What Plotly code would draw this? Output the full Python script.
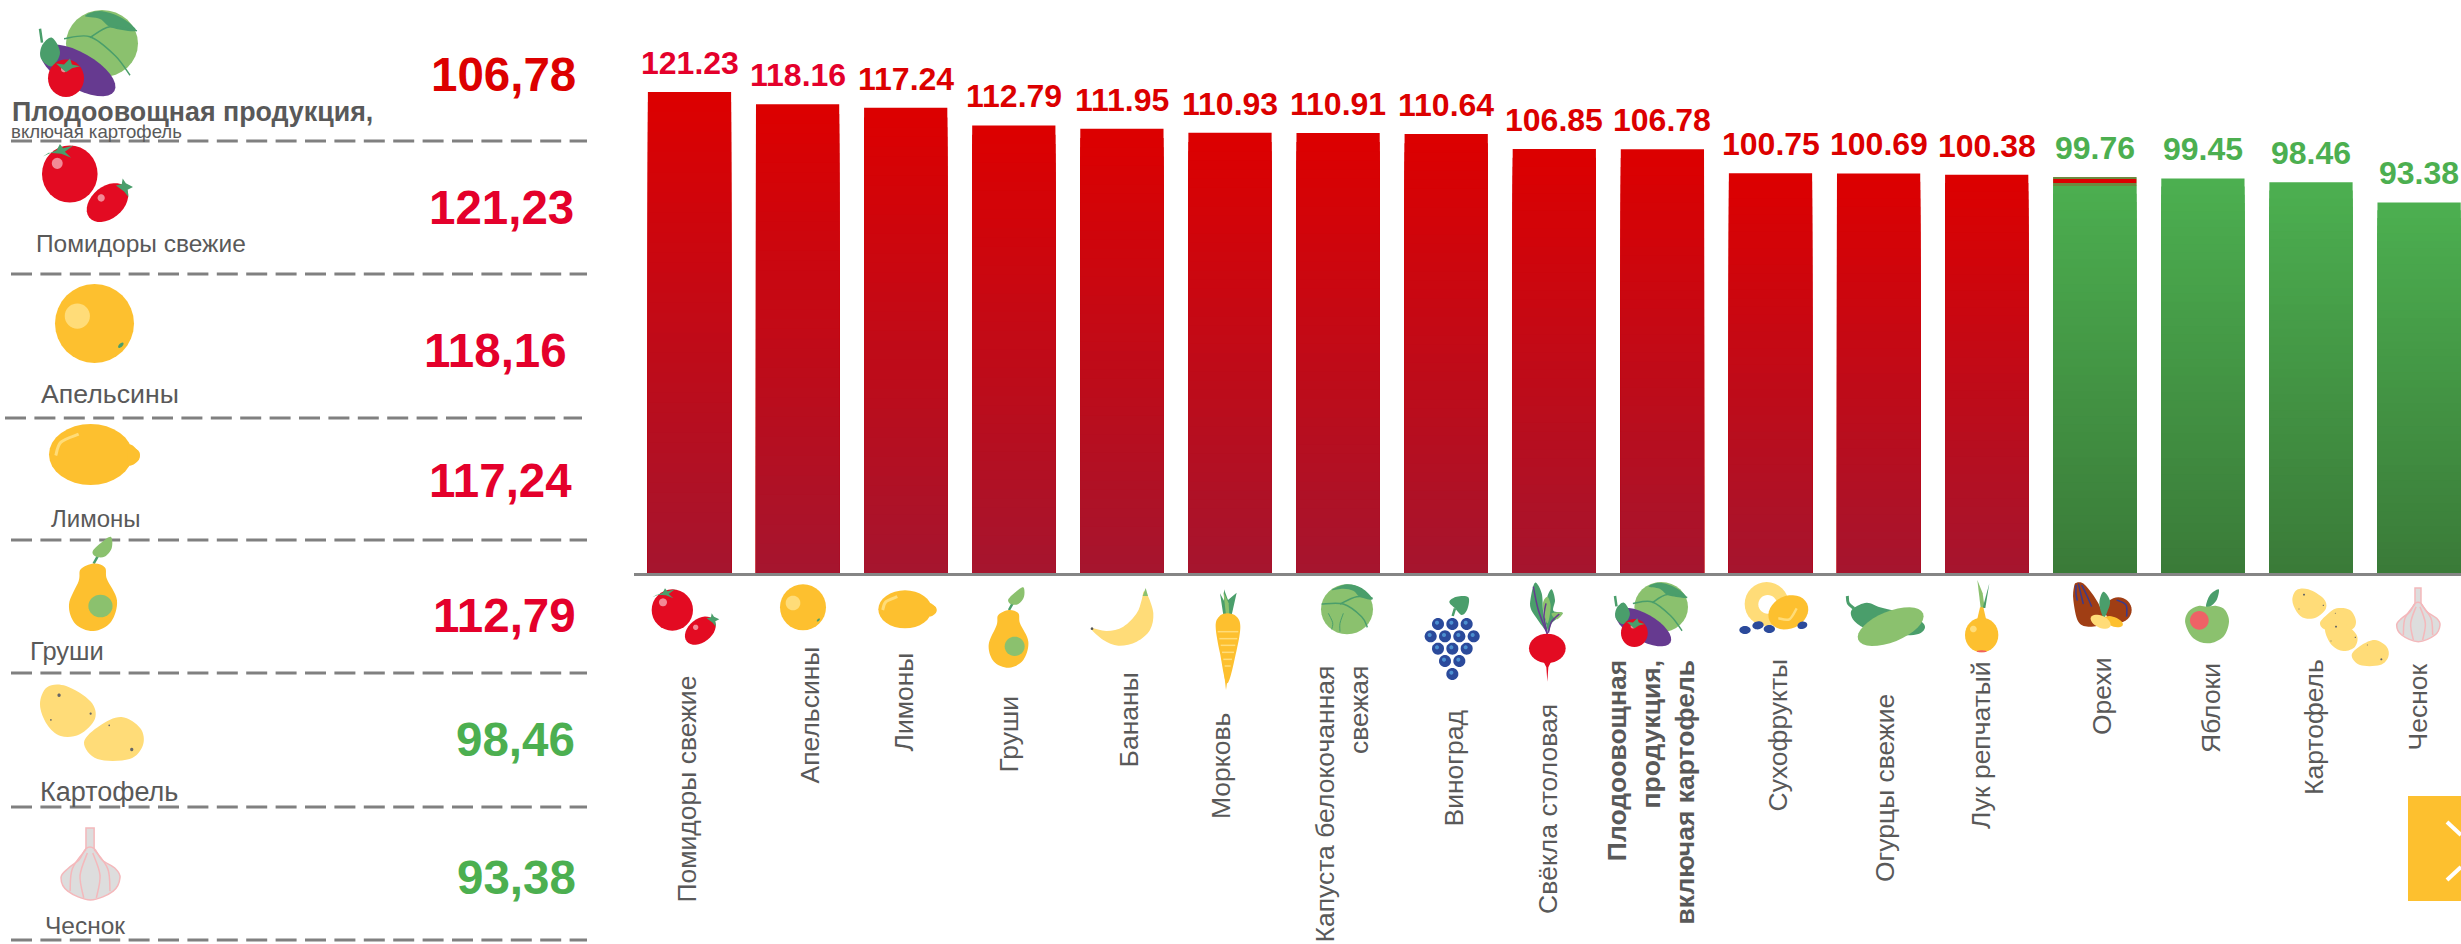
import math
import plotly.graph_objects as go

W, H = 2461, 944

# ---------- data ----------
categories = ["Помидоры свежие", "Апельсины", "Лимоны", "Груши", "Бананы", "Морковь",
              "Капуста белокочанная свежая", "Виноград", "Свёкла столовая",
              "Плодоовощная продукция, включая картофель", "Сухофрукты", "Огурцы свежие",
              "Лук репчатый", "Орехи", "Яблоки", "Картофель", "Чеснок"]
values = [121.23, 118.16, 117.24, 112.79, 111.95, 110.93, 110.91, 110.64, 106.85,
          106.78, 100.75, 100.69, 100.38, 99.76, 99.45, 98.46, 93.38]
tick_labels = ["Помидоры свежие", "Апельсины", "Лимоны", "Груши", "Бананы", "Морковь",
               "Капуста белокочанная<br>свежая", "Виноград", "Свёкла столовая",
               "<b>Плодоовощная<br>продукция,<br>включая картофель</b>", "Сухофрукты",
               "Огурцы свежие", "Лук репчатый", "Орехи", "Яблоки", "Картофель", "Чеснок"]
nuts_strip_category = "Орехи"
nuts_strip_edges = [97.5, 98.3, 99.3, 99.76]

side_names = ["Помидоры свежие", "Апельсины", "Лимоны", "Груши", "Картофель", "Чеснок"]
side_values = [121.23, 118.16, 117.24, 112.79, 98.46, 93.38]
side_total_name = "Плодоовощная продукция,"
side_total_note = "включая картофель"
side_total_value = 106.78

# ---------- layout constants (pixels) ----------
BASE_PX = 573
PX_PER_UNIT = 3.968
PLOT_LEFT = 634
BAR_C0, BAR_PITCH = 689.5, 108.1
GREY = "#595959"
RED, PINK, GREEN = "#dc0000", "#e4002b", "#4caf50"
Y, PALE, LEAF, LIGHT, TOM, BLUE = "#fdc02f", "#ffdc78", "#4a9e6b", "#8bc16e", "#e30b22", "#2b4a9b"
BROWN = "#a03e14"


def px(x):
    return x / W


def py(y):
    return 1 - y / H


# ---------- icon primitives ----------
def ell(cx, cy, rx, ry, color, rot=0):
    a = math.radians(rot)
    pts = []
    for i in range(32):
        t = 2 * math.pi * i / 32
        ex, ey = rx * math.cos(t), ry * math.sin(t)
        pts.append((cx + ex * math.cos(a) - ey * math.sin(a), cy + ex * math.sin(a) + ey * math.cos(a)))
    return dict(kind="poly", pts=pts, fill=color)


def poly(pts, color):
    return dict(kind="poly", pts=pts, fill=color)


def blob(pts, color):
    return dict(kind="blob", pts=pts, fill=color)


def stroke(pts, color, w=2.0):
    return dict(kind="stroke", pts=pts, line=color, w=w)


def outlined(prim, color, w=1.5):
    p = dict(prim)
    p["line"] = color
    p["w"] = w
    return p


def catmull(pts, closed):
    n = len(pts)
    fmt = []
    segs = range(n) if closed else range(n - 1)
    for i in segs:
        if closed:
            p0, p1, p2, p3 = pts[(i - 1) % n], pts[i], pts[(i + 1) % n], pts[(i + 2) % n]
        else:
            p0, p1, p2, p3 = pts[max(i - 1, 0)], pts[i], pts[i + 1], pts[min(i + 2, n - 1)]
        c1 = (p1[0] + (p2[0] - p0[0]) / 6, p1[1] + (p2[1] - p0[1]) / 6)
        c2 = (p2[0] - (p3[0] - p1[0]) / 6, p2[1] - (p3[1] - p1[1]) / 6)
        fmt.append((c1, c2, p2))
    return fmt


def render(icon, mapper):
    out = []
    for p in icon:
        m = [mapper(*q) for q in p["pts"]]
        s = lambda q: f"{px(q[0]):.6f},{py(q[1]):.6f}"
        d = "M" + s(m[0])
        if p["kind"] == "poly":
            d += "".join(" L" + s(q) for q in m[1:]) + " Z"
        elif p["kind"] == "blob":
            d += "".join(f" C{s(a)} {s(b)} {s(c)}" for a, b, c in catmull(m, True)) + " Z"
        else:
            d += "".join(f" C{s(a)} {s(b)} {s(c)}" for a, b, c in catmull(m, False))
        sh = dict(type="path", path=d, xref="paper", yref="paper", layer="above")
        if p["kind"] == "stroke":
            sh["line"] = dict(color=p["line"], width=p["w"])
            sh["fillcolor"] = "rgba(0,0,0,0)"
        else:
            sh["fillcolor"] = p["fill"]
            sh["line"] = dict(color=p.get("line", p["fill"]), width=p.get("w", 0))
        out.append(sh)
    return out


def place_frame(icon, ox, oy, k=1 / 3):
    return render(icon, lambda x, y: (ox + x * k, oy + y * k))


def place_box(icon, box):
    xs = [q[0] for p in icon for q in p["pts"]]
    ys = [q[1] for p in icon for q in p["pts"]]
    x0, x1, y0, y1 = min(xs), max(xs), min(ys), max(ys)
    return render(icon, lambda x, y: (box[0] + (x - x0) / (x1 - x0) * (box[2] - box[0]),
                                      box[1] + (y - y0) / (y1 - y0) * (box[3] - box[1])))


tomato = [
    ell(97, 90, 62, 62, TOM), ell(69, 67, 12, 12, "#f28a96"),
    poly([(37, 52), (68, 38), (75, 25), (82, 34), (105, 28), (86, 42), (100, 55), (78, 46), (50, 44)], LEAF),
    ell(181, 152, 52, 35, TOM, -38), ell(167, 142, 8, 8, "#f28a96"),
    poly([(200, 115), (213, 112), (215, 100), (222, 110), (238, 118), (226, 124), (228, 140), (218, 128)], LEAF),
]
orange = [ell(489, 82, 69, 69, Y), ell(459, 69, 22, 22, PALE), ell(535, 120, 6, 3, LEAF, -45)]
lemon = [ell(795, 88, 80, 57, Y), ell(878, 89, 12, 12, Y),
         blob([(868, 70), (885, 80), (888, 98), (868, 108)], Y),
         stroke([(728, 90), (738, 65), (772, 50)], PALE, 3)]
pear = [
    stroke([(1107, 90), (1128, 52)], LEAF, 2.5),
    blob([(1105, 58), (1128, 35), (1150, 22), (1152, 50), (1135, 72), (1112, 72)], LIGHT),
    blob([(1107, 90), (1135, 100), (1140, 130), (1165, 185), (1150, 240), (1107, 263),
          (1062, 245), (1046, 195), (1070, 135), (1075, 105)], Y),
    ell(1124, 199, 30, 29, LIGHT),
]
banana = [
    blob([(1353, 145), (1400, 153), (1450, 140), (1490, 100), (1505, 60), (1512, 34), (1525, 50),
          (1540, 100), (1530, 150), (1490, 185), (1435, 197), (1390, 180)], PALE),
    poly([(1508, 48), (1517, 24), (1524, 48)], LIGHT), ell(1356, 146, 4, 4, "#555555"),
]
carrot = [
    poly([(250, 105), (240, 40), (252, 62), (252, 28), (264, 60), (290, 38), (275, 105)], LEAF),
    poly([(258, 105), (250, 35), (266, 70), (268, 105)], LIGHT),
    blob([(262, 100), (290, 110), (301, 140), (290, 210), (262, 310), (240, 220), (227, 140), (237, 110)], Y),
    poly([(250, 260), (268, 260), (258, 330)], Y),
    stroke([(233, 155), (295, 155)], PALE, 1.5), stroke([(238, 176), (292, 176)], PALE, 1.5),
    stroke([(242, 196), (286, 196)], PALE, 1.5), stroke([(246, 217), (282, 217)], PALE, 1.5),
    stroke([(250, 238), (276, 238)], PALE, 1.5), stroke([(254, 258), (272, 258)], PALE, 1.5),
]
cabbage = [
    ell(621, 88, 78, 75, LIGHT),
    blob([(575, 30), (620, 13), (665, 24), (698, 58), (660, 50), (640, 32), (610, 26)], LEAF),
    stroke([(545, 72), (610, 72), (665, 110), (682, 142)], LEAF, 1.5),
    stroke([(600, 72), (650, 50), (698, 55)], LEAF, 1.5),
    stroke([(565, 100), (578, 128), (575, 148)], LEAF, 1),
    stroke([(610, 100), (600, 130), (600, 155)], LEAF, 1),
]
grape_centers = [(894, 132), (937, 132), (980, 132), (872, 169), (915, 169), (958, 169), (1001, 169),
                 (894, 206), (937, 206), (980, 206), (915, 243), (958, 243), (937, 282)]
grapes = [stroke([(945, 85), (938, 108)], LEAF, 2.5),
          blob([(928, 65), (950, 50), (985, 52), (982, 88), (965, 105), (945, 85)], LEAF)]
for gx, gy in grape_centers:
    grapes += [ell(gx, gy, 18, 18, BLUE), ell(gx - 3, gy - 4, 6, 6, "#4b8fd0")]
beet = [
    blob([(1172, 55), (1185, 8), (1205, 40), (1210, 100), (1222, 155), (1190, 115), (1172, 85)], LEAF),
    blob([(1222, 50), (1235, 28), (1245, 60), (1240, 92), (1268, 100), (1235, 130), (1225, 155), (1212, 92)], LEAF),
    blob([(1208, 75), (1222, 50), (1232, 80), (1222, 130)], LIGHT),
    blob([(1235, 100), (1268, 98), (1250, 118)], LIGHT),
    stroke([(1222, 162), (1195, 90), (1180, 20)], "#663a90", 1.5),
    stroke([(1222, 162), (1212, 110), (1218, 70)], "#663a90", 1.5),
    stroke([(1225, 158), (1235, 125), (1258, 102)], "#663a90", 1.5),
    ell(1222, 205, 55, 44, TOM),
    poly([(1208, 240), (1236, 240), (1225, 262), (1222, 305), (1219, 262)], TOM),
]
mixed = [
    ell(102, 43, 36, 34, LIGHT),
    blob([(85, 15), (100, 10), (122, 17), (136, 30), (112, 27), (100, 18)], LEAF),
    stroke([(64, 38), (90, 36), (115, 55), (130, 75)], LEAF, 1.5),
    stroke([(90, 37), (110, 26), (137, 30)], LEAF, 1.5),
    ell(78, 70, 42, 18, "#663a90", 30),
    stroke([(42, 42), (40, 28)], LEAF, 2.5),
    blob([(41, 58), (42, 45), (52, 37), (60, 52), (52, 66)], LEAF),
    ell(66, 78, 18, 19, TOM), ell(64, 69, 3, 3, "#f28a96"),
    poly([(56, 63), (64, 64), (70, 58), (72, 64), (80, 66), (72, 68), (66, 72)], LEAF),
]
dried = [
    ell(380, 72, 66, 66, PALE), ell(383, 73, 28, 28, "#ffffff"),
    ell(445, 97, 62, 49, Y, -25),
    stroke([(415, 115), (448, 118), (470, 85)], PALE, 2.5),
    ell(315, 150, 17, 12, BLUE), ell(354, 136, 17, 12, BLUE, -10), ell(388, 147, 17, 12, BLUE),
    ell(487, 136, 15, 11, BLUE, -15),
]
cucumber = [
    stroke([(622, 48), (625, 70), (642, 85)], LEAF, 3),
    blob([(640, 85), (680, 68), (720, 82), (770, 95), (830, 115), (855, 140), (835, 162),
          (780, 165), (690, 150), (650, 130), (633, 105)], LEAF),
    ell(752, 140, 105, 46, LIGHT, -22),
]
onion = [
    poly([(1022, 84), (1012, 0), (1028, 40), (1034, 84)], LIGHT),
    poly([(1028, 84), (1048, 10), (1036, 84)], LEAF),
    poly([(1010, 125), (1020, 82), (1030, 82), (1040, 125)], Y),
    ell(1025, 165, 50, 52, Y), ell(1025, 214, 15, 3, "#f0605f"), ell(1000, 147, 10, 10, PALE),
]
nuts = [
    ell(175, 90, 40, 38, BROWN),
    stroke([(170, 60), (198, 75), (200, 110)], "#3a3a8c", 1.5),
    blob([(50, 8), (75, 15), (115, 70), (130, 125), (90, 140), (55, 125), (40, 60), (42, 20)], BROWN),
    stroke([(55, 10), (62, 40), (70, 72)], "#3a3a8c", 1.5), stroke([(65, 15), (80, 45), (95, 80)], "#3a3a8c", 1.5),
    stroke([(48, 15), (48, 40), (52, 62)], "#3a3a8c", 1.5),
    blob([(130, 35), (150, 62), (142, 95), (130, 112), (118, 70)], LEAF),
    ell(160, 125, 30, 14, Y, 20), ell(122, 125, 32, 18, PALE, 25),
]
apple = [
    blob([(438, 78), (450, 45), (476, 28), (470, 60), (450, 80)], LEAF),
    blob([(440, 80), (470, 78), (495, 90), (507, 125), (490, 170), (445, 190), (400, 175),
          (376, 130), (385, 95), (415, 78)], LIGHT),
    ell(418, 121, 28, 28, "#ee6266"),
]


def spot(x, y, r=2.5):
    return ell(x, y, r, r, "#666666")


potato_a = [blob([(697, 60), (710, 30), (745, 28), (790, 55), (798, 85), (770, 112), (735, 115), (710, 95)], PALE),
            spot(732, 44, 3), spot(790, 76, 2), spot(717, 87, 1.5)]
potato_b = [blob([(780, 130), (800, 105), (830, 85), (870, 90), (888, 125), (870, 150), (800, 150)], PALE),
            spot(826, 100, 1.5)]
potato_c = [blob([(795, 150), (815, 130), (850, 130), (890, 165), (885, 200), (850, 213), (815, 195)], PALE),
            spot(828, 140, 3), spot(886, 172, 2), spot(813, 183, 1.5)]
potato_d = [blob([(875, 225), (905, 195), (945, 180), (980, 200), (985, 230), (960, 255), (900, 255)], PALE),
            spot(922, 195, 1.5), spot(964, 238, 3)]
potatoes = potato_a + potato_b + potato_c + potato_d

GL = "#f4b8bb"
garlic = [
    outlined(poly([(1065, 24), (1083, 24), (1083, 75), (1065, 75)], "#dddddd"), GL),
    outlined(blob([(1065, 70), (1083, 70), (1100, 95), (1130, 115), (1140, 135), (1125, 165),
                   (1075, 185), (1025, 165), (1010, 135), (1025, 115), (1050, 95)], "#dddddd"), GL),
    stroke([(1065, 72), (1035, 115), (1030, 165)], GL, 1.5),
    stroke([(1083, 72), (1113, 115), (1118, 165)], GL, 1.5),
    stroke([(1068, 80), (1052, 130), (1060, 180)], GL, 1.5),
    stroke([(1080, 80), (1096, 130), (1088, 180)], GL, 1.5),
]

# ---------- bars: overlaid, shrinking copies give the vertical gradient ----------
GRAD_STEPS = 48
BAR_W = 0.77


def mix(c_top, c_bot, t):
    a = [int(c_top[i:i + 2], 16) for i in (1, 3, 5)]
    b = [int(c_bot[i:i + 2], 16) for i in (1, 3, 5)]
    return "rgb(%d,%d,%d)" % tuple(round(b[i] + (a[i] - b[i]) * t) for i in range(3))


fig = go.Figure()
for k in range(GRAD_STEPS, 0, -1):
    f = k / GRAD_STEPS
    fig.add_trace(go.Bar(
        x=categories, y=[v * f for v in values], width=BAR_W, hoverinfo="skip", showlegend=False,
        marker=dict(line=dict(width=0),
                    color=[mix("#dc0000", "#a5152f", f) if v >= 100 else mix("#4caf50", "#3a7a38", f)
                           for v in values])))

strip_colors = ["#6d8a3f", "#dc0000", "#6d8a3f"]
for lo, hi, c in zip(nuts_strip_edges[:-1], nuts_strip_edges[1:], strip_colors):
    fig.add_trace(go.Bar(x=[nuts_strip_category], y=[hi - lo], base=[lo], width=BAR_W, hoverinfo="skip",
                         showlegend=False, marker=dict(color=c, line=dict(width=0))))

ann = []
# value labels above the bars
for i, (c, v) in enumerate(zip(categories, values)):
    col = PINK if v > 118 else (RED if v >= 100 else GREEN)
    ann.append(dict(x=c, y=v, xref="x", yref="y", yanchor="bottom", xanchor="center", yshift=9,
                    text=f"{v:.2f}", showarrow=False,
                    font=dict(family="Liberation Sans", size=32, color=col, weight="bold")))

# rotated category labels
label_x_px = [686, 809, 903, 1008, 1128, 1221, 1341, 1453, 1548, 1651, 1777, 1885, 1981, 2102, 2211, 2314, 2417]
label_top_px = [676, 647, 653, 695, 673, 713, 666, 710, 704, 660, 659, 694, 661, 657, 663, 659, 664]
for t, lx, ly in zip(tick_labels, label_x_px, label_top_px):
    ann.append(dict(x=px(lx), y=py(ly), xref="paper", yref="paper", xanchor="center", yanchor="top",
                    text=t, textangle=-90, showarrow=False, align="right", borderpad=0, borderwidth=0,
                    font=dict(family="Liberation Sans", size=26.5, color=GREY)))

# left panel texts
side_num_right = [574, 567, 572, 576, 575, 576]
side_num_y = [208, 350, 480, 615, 739, 877]
side_name_x = [36, 41, 51, 30, 40, 45]
side_name_y = [244, 394, 518, 651, 792, 925]
side_name_size = [24.5, 26.7, 24, 25.5, 27, 24.5]


def num_ann(v, right, y, color):
    return dict(x=px(right), y=py(y), xref="paper", yref="paper", xanchor="right", yanchor="middle",
                text=f"{v:.2f}".replace(".", ","), showarrow=False, borderpad=0, borderwidth=0,
                font=dict(family="Liberation Sans", size=47.5, color=color, weight="bold"))


ann.append(num_ann(side_total_value, 576, 75, RED))
for v, r, y in zip(side_values, side_num_right, side_num_y):
    ann.append(num_ann(v, r, y, PINK if v >= 100 else GREEN))
for n, x, y, s in zip(side_names, side_name_x, side_name_y, side_name_size):
    ann.append(dict(x=px(x), y=py(y), xref="paper", yref="paper", xanchor="left", yanchor="middle",
                    text=n, showarrow=False, borderpad=0, borderwidth=0,
                    font=dict(family="Liberation Sans", size=s, color=GREY)))
ann.append(dict(x=px(12), y=py(112), xref="paper", yref="paper", xanchor="left", yanchor="middle",
                text=side_total_name, showarrow=False, borderpad=0, borderwidth=0,
                font=dict(family="Liberation Sans", size=26.8, color=GREY, weight="bold")))
ann.append(dict(x=px(11), y=py(132), xref="paper", yref="paper", xanchor="left", yanchor="middle",
                text=side_total_note, showarrow=False, borderpad=0, borderwidth=0,
                font=dict(family="Liberation Sans", size=18.6, color=GREY)))

# ---------- shapes ----------
shapes = []
dash_rows = [(11, 587, 141), (11, 587, 274), (5, 582, 418), (11, 587, 540), (11, 587, 673), (11, 587, 807), (11, 587, 940)]
for x0, x1, y in dash_rows:
    shapes.append(dict(type="line", xref="paper", yref="paper", x0=px(x0), x1=px(x1), y0=py(y), y1=py(y),
                       line=dict(color="#808080", width=3, dash="21px,8.4px"), layer="above"))

# bottom row icons, drawn in frames of the axis row
shapes += place_frame(tomato, 640, 580)
shapes += place_frame(orange, 640, 580)
shapes += place_frame(lemon, 640, 580)
shapes += place_frame(pear, 640, 580)
shapes += place_frame(banana, 640, 580)
shapes += place_frame(carrot, 1140, 580)
shapes += place_frame(cabbage, 1140, 580)
shapes += place_frame(grapes, 1140, 580)
shapes += place_frame(beet, 1140, 580)
shapes += place_box(mixed, (1615, 582, 1688, 647))
shapes += place_frame(dried, 1640, 580)
shapes += place_frame(cucumber, 1640, 580)
shapes += place_frame(onion, 1640, 580)
shapes += place_frame(nuts, 2060, 580)
shapes += place_frame(apple, 2060, 580)
shapes += place_frame(potatoes, 2060, 580)
shapes += place_frame(garlic, 2060, 580)

# left panel icons
shapes += place_box(mixed, (40, 10, 138, 97))
shapes += place_box(tomato, (42, 144, 133, 222))
shapes += place_box(orange, (55, 284, 134, 363))
shapes += place_box(lemon, (49, 424, 140, 485))
shapes += place_box(pear, (69, 537, 117, 631))
shapes += place_box(potato_a, (40, 686, 95, 736))
shapes += place_box(potato_d, (84, 717, 143, 759))
shapes += place_box(garlic, (61, 828, 120, 900))

# next button
shapes.append(dict(type="rect", xref="paper", yref="paper", x0=px(2408), x1=1, y0=py(901), y1=py(796),
                   fillcolor="#fdc02f", line=dict(width=0), layer="above"))
for a, b in [((2447, 822), (2461, 835)), ((2447, 880), (2461, 867))]:
    shapes.append(dict(type="line", xref="paper", yref="paper", x0=px(a[0]), y0=py(a[1]), x1=px(b[0]), y1=py(b[1]),
                       line=dict(color="#ffffff", width=4), layer="above"))

fig.update_layout(
    width=W, height=H, autosize=False, margin=dict(l=0, r=0, t=0, b=0),
    paper_bgcolor="#ffffff", plot_bgcolor="#ffffff", barmode="overlay", showlegend=False,
    font=dict(family="Liberation Sans"),
    xaxis=dict(type="category", categoryorder="array", categoryarray=categories,
               domain=[PLOT_LEFT / W, 1],
               range=[(PLOT_LEFT - BAR_C0) / BAR_PITCH, (W - BAR_C0) / BAR_PITCH],
               showticklabels=False, ticks="", showgrid=False, zeroline=False,
               showline=True, linecolor="#858585", linewidth=3),
    yaxis=dict(domain=[(H - BASE_PX) / H, 1], range=[0, BASE_PX / PX_PER_UNIT], visible=False),
    annotations=ann, shapes=shapes,
)
fig.write_html("out.html", config=dict(displayModeBar=False),
               post_script="document.body.style.margin='0';document.documentElement.style.overflow='hidden';")
